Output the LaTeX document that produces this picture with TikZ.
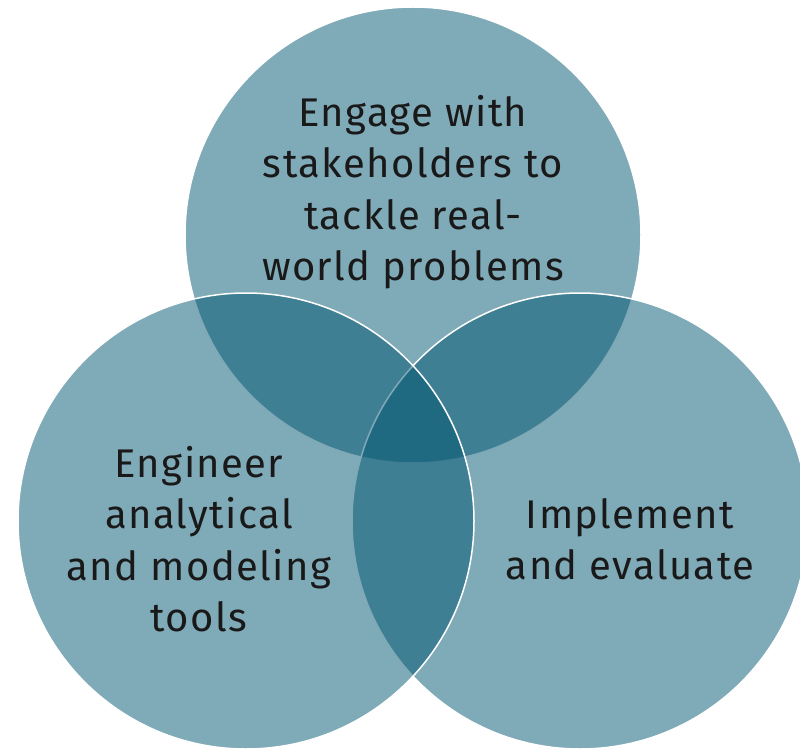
\documentclass[tikz,border=0pt]{standalone}
\usepackage{fontspec}
\setmainfont{Fira Sans}[LetterSpace=3.5]
\definecolor{venncol}{RGB}{0,85,111}
\begin{document}
\begin{tikzpicture}[x=1pt,y=-1pt,
    venn/.style={fill=venncol,fill opacity=.5,draw=white,line width=1.5pt},
    label/.style={align=center,font=\fontsize{40}{51.5}\selectfont,text=black!90}]
  \useasboundingbox (0,0) rectangle (800,751);
  % ------ the three circles -------------------
  \coordinate (T) at (413,235);
  \coordinate (L) at (246,521);
  \coordinate (R) at (580,521);
  \draw[venn] (T) circle (228);
  \draw[venn] (R) circle (228);
  \draw[venn] (L) circle (228);
  % ------ texts -------------------
  \node[label] (engage) at (413,192) {Engage with\\stakeholders to\\tackle real-\\world problems};
  \node[label] (engineer) at (199,539) {Engineer\\analytical\\and modeling\\tools};
  \node[label] (implement) at (630,539) {Implement\\and evaluate};
\end{tikzpicture}
\end{document}
